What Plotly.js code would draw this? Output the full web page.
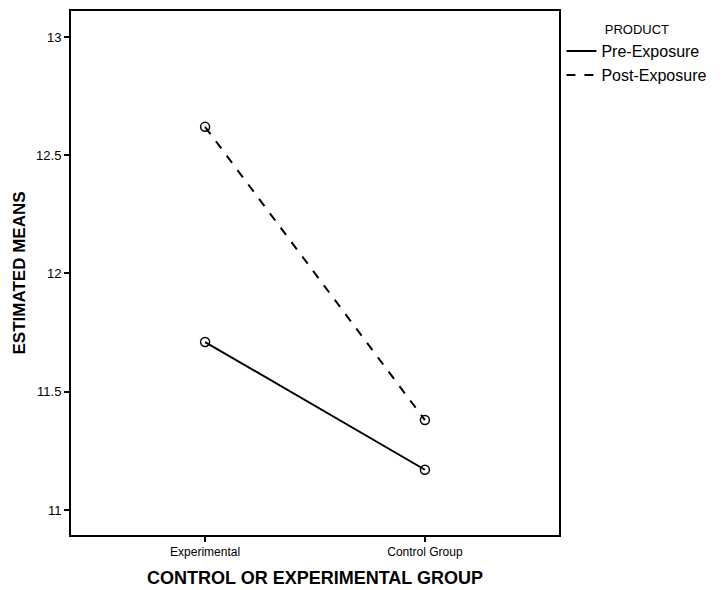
<!DOCTYPE html>
<html>
<head>
<meta charset="utf-8">
<script src="https://cdn.plot.ly/plotly-3.0.1.min.js"></script>
<style>html,body{margin:0;padding:0;background:#fff;}#chart{width:726px;height:590px;}</style>
</head>
<body>
<div id="chart"></div>
<script>
var groups = ["Experimental", "Control Group"];
var preExposure = [11.71, 11.17];
var postExposure = [12.62, 11.38];
var seriesNames = ["Pre-Exposure", "Post-Exposure"];
var yTicks = [11, 11.5, 12, 12.5, 13];
var yTickLabels = ["11", "11.5", "12", "12.5", "13"];

var font = "Liberation Sans, Arial, sans-serif";
var markerStyle = {symbol: "circle-open", size: 9, color: "#000", line: {width: 1.5, color: "#000"}};
var traces = [
  {x: groups, y: preExposure, name: seriesNames[0], type: "scatter", mode: "lines",
   line: {color: "#000", width: 2, dash: "solid"}, legendgroup: "pre"},
  {x: groups, y: postExposure, name: seriesNames[1], type: "scatter", mode: "lines",
   line: {color: "#000", width: 2, dash: "dash"}, legendgroup: "post"},
  {x: groups, y: preExposure, name: seriesNames[0], type: "scatter", mode: "markers",
   marker: markerStyle, showlegend: false, legendgroup: "pre"},
  {x: groups, y: postExposure, name: seriesNames[1], type: "scatter", mode: "markers",
   marker: markerStyle, showlegend: false, legendgroup: "post"}
];
var layout = {
  width: 726, height: 590,
  margin: {l: 71, r: 167, t: 11, b: 55},
  paper_bgcolor: "#fff", plot_bgcolor: "#fff",
  font: {family: font, color: "#000"},
  xaxis: {
    type: "category", range: [-0.61, 1.61],
    showgrid: false, zeroline: false,
    showline: true, linecolor: "#000", linewidth: 2, mirror: true,
    ticks: "outside", ticklen: 5, tickwidth: 2, tickcolor: "#000",
    tickfont: {size: 12, family: font},
    title: {text: "<b>CONTROL OR EXPERIMENTAL GROUP</b>", font: {size: 18, family: font}, standoff: 13}
  },
  yaxis: {
    range: [10.894, 13.11],
    tickvals: yTicks, ticktext: yTickLabels,
    showgrid: false, zeroline: false,
    showline: true, linecolor: "#000", linewidth: 2, mirror: true,
    ticks: "outside", ticklen: 5, tickwidth: 2, tickcolor: "#000",
    tickfont: {size: 13, family: font},
    title: {text: "<b>ESTIMATED MEANS</b>", font: {size: 17, family: font}, standoff: 6}
  },
  showlegend: true,
  legend: {
    x: 1.005, y: 0.988, xanchor: "left", yanchor: "top",
    bgcolor: "rgba(0,0,0,0)",
    font: {size: 16, family: font},
    title: {text: "PRODUCT", font: {size: 13, family: font}, side: "top center"},
    tracegroupgap: 0, itemwidth: 30
  }
};
Plotly.newPlot("chart", traces, layout, {displayModeBar: false});
</script>
</body>
</html>
